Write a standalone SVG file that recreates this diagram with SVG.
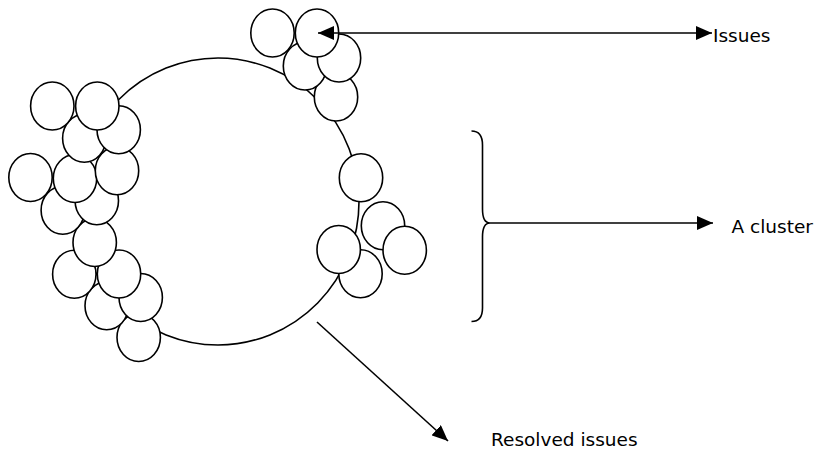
<svg xmlns="http://www.w3.org/2000/svg" width="814" height="452" viewBox="0 0 814 452">
<style>
.c{fill:#fff;stroke:#000;stroke-width:1.6}
.ring{fill:#fff;stroke:#000;stroke-width:1.6}
.ln{fill:none;stroke:#000;stroke-width:1.6}
.t{font-family:"DejaVu Sans",Verdana,sans-serif;font-size:18.5px;fill:#000}
</style>
<defs>
<marker id="ah" markerUnits="userSpaceOnUse" markerWidth="17" markerHeight="14" refX="16" refY="7" orient="auto-start-reverse" viewBox="0 0 17 14">
<path d="M0,0 L16,7 L0,14 z" fill="#000"/>
</marker>
<ellipse id="b" rx="21.7" ry="24" class="c"/>
</defs>
<rect width="814" height="452" fill="#fff"/>
<g id="ring"><ellipse cx="218" cy="201.5" rx="141" ry="143.5" class="ring"/></g>
<g id="cluster-top">
<use href="#b" x="336" y="97"/>
<use href="#b" x="305" y="66"/>
<use href="#b" x="339" y="58"/>
<use href="#b" x="272.5" y="33"/>
<use href="#b" x="317" y="33"/>
</g>
<g id="cluster-left">
<use href="#b" x="138.7" y="337.5"/>
<use href="#b" x="106.7" y="305.8"/>
<use href="#b" x="140.7" y="297.5"/>
<use href="#b" x="74.3" y="274.2"/>
<use href="#b" x="119" y="274"/>
<use href="#b" x="94.7" y="242.5"/>
<use href="#b" x="62.8" y="210.3"/>
<use href="#b" x="96.8" y="200.8"/>
<use href="#b" x="75" y="178.5"/>
<use href="#b" x="30.5" y="177.5"/>
<use href="#b" x="117" y="170.7"/>
<use href="#b" x="84.3" y="138.3"/>
<use href="#b" x="118.7" y="129.7"/>
<use href="#b" x="52.3" y="106"/>
<use href="#b" x="97.3" y="106"/>
</g>
<g id="cluster-right">
<use href="#b" x="360.5" y="273.8"/>
<use href="#b" x="338.7" y="249.5"/>
<use href="#b" x="383" y="225.8"/>
<use href="#b" x="404.7" y="250.2"/>
<use href="#b" x="361" y="177.8"/>
</g>
<g id="connectors">
<line x1="318" y1="33" x2="712" y2="33" class="ln" marker-start="url(#ah)" marker-end="url(#ah)"/>
<path d="M471.5,131 Q482.5,131 482.5,145 L482.5,209 Q482.5,223 490,223 Q482.5,223 482.5,237 L482.5,308 Q482.5,321.5 471.5,321.5" class="ln"/>
<line x1="490" y1="223" x2="713" y2="223" class="ln" marker-end="url(#ah)"/>
<line x1="317" y1="322" x2="448" y2="441" class="ln" marker-end="url(#ah)"/>
</g>
<g id="label-issues"><text x="713" y="42" class="t">Issues</text></g>
<g id="label-cluster"><text x="731.5" y="233" class="t">A cluster</text></g>
<g id="label-resolved"><text x="491" y="446" class="t">Resolved issues</text></g>
</svg>
